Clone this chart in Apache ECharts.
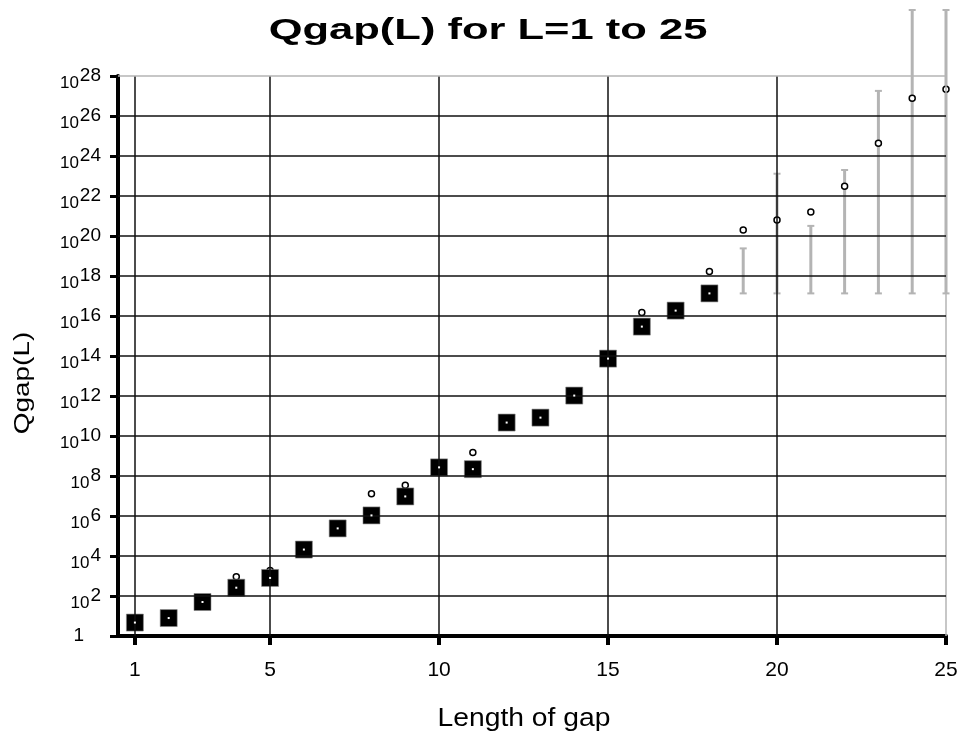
<!DOCTYPE html>
<html><head><meta charset="utf-8">
<script src="https://cdn.jsdelivr.net/npm/echarts@6/dist/echarts.min.js"></script>
<style>html,body{margin:0;padding:0;background:#fff}#c{width:962px;height:736px}</style>
</head><body><div id="c"></div>
<script>
// ---- data ----
const lengths = [1,2,3,4,5,6,7,8,9,10,11,12,13,14,15,16,17,18,19,20,21,22,23,24,25];
const qgapSquares = [4.7, 7.9, 50, 260, 800, 2.1e4, 2.4e5, 1.07e6, 9.5e6, 2.7e8, 2.2e8, 4.7e10, 8.3e10, 1.05e12, 7.4e13, 2.95e15, 1.86e16, 1.35e17, null, null, null, null, null, null, null];
const qgapCircles = [null, null, null, 9.3e2, 1.9e3, null, null, 1.3e7, 3.4e7, null, 1.5e9, null, null, null, null, 1.5e16, null, 1.7e18, 2e20, 6.3e20, 1.6e21, 3.1e22, 4.3e24, 7.7e26, 2.2e27];
const errLow  = [null, null, null, null, null, null, null, null, null, null, null, null, null, null, null, null, null, null, 1.35e17, 1.35e17, 1.35e17, 1.35e17, 1.35e17, 1.35e17, 1.35e17];
const errHigh = [null, null, null, null, null, null, null, null, null, null, null, null, null, null, null, null, null, null, 2.4e19, 1.3e23, 3.2e20, 2e23, 1.8e27, 2e31, 2e31];
const xTicks = [1, 5, 10, 15, 20, 25];
const yTicks = [1, 1e2, 1e4, 1e6, 1e8, 1e10, 1e12, 1e14, 1e16, 1e18, 1e20, 1e22, 1e24, 1e26, 1e28];
const titleText = 'Qgap(L) for L=1 to 25';
const xName = 'Length of gap';
const yName = 'Qgap(L)';

const FONT = '"Liberation Sans", Arial, sans-serif';
const squareData = lengths.map((l, i) => [l, qgapSquares[i]]).filter(d => d[1] != null);
const circleData = lengths.map((l, i) => [l, qgapCircles[i]]).filter(d => d[1] != null);
const errData = lengths.map((l, i) => [l, errLow[i], errHigh[i]]).filter(d => d[1] != null);

const GRID_BLACK = '#111';
const BORDER_GREY = '#b4b4b4';
const gridLines = [];
xTicks.forEach(v => gridLines.push({xAxis: v, lineStyle: {color: v === 25 ? BORDER_GREY : GRID_BLACK}}));
yTicks.slice(1).forEach(v => gridLines.push({yAxis: v, lineStyle: {color: v === 1e28 ? BORDER_GREY : GRID_BLACK}}));

const chart = echarts.init(document.getElementById('c'), null, {renderer: 'canvas'});
chart.setOption({
  animation: false,
  backgroundColor: '#fff',
  grid: {left: 118, right: 16, top: 76, bottom: 100, containLabel: false},
  graphic: [
    {type: 'text', x: 488, y: 31, scaleX: 1.5, z: 10,
     style: {text: titleText, font: 'bold 29px ' + FONT, fill: '#000', textAlign: 'center', textVerticalAlign: 'middle'}},
    {type: 'text', x: 23, y: 383, rotation: Math.PI / 2, scaleX: 1.27, z: 10,
     style: {text: yName, font: '22px ' + FONT, fill: '#000', textAlign: 'center', textVerticalAlign: 'middle'}},
    {type: 'text', x: 524, y: 719, scaleX: 1.13, z: 10,
     style: {text: xName, font: '25px ' + FONT, fill: '#000', textAlign: 'center', textVerticalAlign: 'middle'}}
  ],
  xAxis: {
    type: 'value', min: 0.5, max: 25,
    axisLine: {show: true, onZero: false, lineStyle: {color: '#000', width: 4}},
    axisTick: {show: true, customValues: xTicks, length: 9, lineStyle: {color: '#000', width: 4}},
    axisLabel: {customValues: xTicks, margin: 24, fontSize: 21, color: '#000', fontFamily: FONT},
    splitLine: {show: false}
  },
  yAxis: {
    type: 'log', logBase: 10, min: 1, max: 1e28,
    axisLine: {show: true, onZero: false, lineStyle: {color: '#000', width: 4}},
    axisTick: {show: true, customValues: yTicks, length: 8, lineStyle: {color: '#000', width: 3}},
    axisLabel: {
      customValues: yTicks, margin: 17, color: '#000', fontFamily: FONT,
      formatter: function (v) {
        const e = Math.round(Math.log10(v));
        return e === 0 ? '{o|1}' : '{b|10}{e|' + e + '}';
      },
      rich: {
        o: {fontSize: 19, lineHeight: 19, padding: [0, 17, 0, 0], fontFamily: FONT, color: '#000'},
        b: {fontSize: 17, lineHeight: 17, padding: [15, 1, 0, 0], fontFamily: FONT, color: '#000'},
        e: {fontSize: 19, lineHeight: 19, fontFamily: FONT, color: '#000'}
      }
    },
    splitLine: {show: false}
  },
  series: [
    {
      name: 'gridlines', type: 'line', data: [], z: 1, silent: true,
      markLine: {silent: true, symbol: 'none', label: {show: false}, animation: false,
        lineStyle: {type: 'solid', width: 1.5}, data: gridLines}
    },
    {
      name: 'range', type: 'custom', z: 2, clip: false,
      data: errData, encode: {x: 0, y: [1, 2]},
      renderItem: function (params, api) {
        const x = api.value(0);
        const lo = api.coord([x, api.value(1)]);
        const hi = api.coord([x, api.value(2)]);
        const cw = 3.5;
        return {type: 'group', children: [
          {type: 'line', shape: {x1: lo[0], y1: lo[1], x2: hi[0], y2: hi[1]}, style: {stroke: BORDER_GREY, lineWidth: 3}},
          {type: 'line', shape: {x1: lo[0] - cw, y1: lo[1], x2: lo[0] + cw, y2: lo[1]}, style: {stroke: BORDER_GREY, lineWidth: 2}},
          {type: 'line', shape: {x1: hi[0] - cw, y1: hi[1], x2: hi[0] + cw, y2: hi[1]}, style: {stroke: BORDER_GREY, lineWidth: 2}}
        ]};
      }
    },
    {
      name: 'estimate', type: 'scatter', z: 3, data: circleData, symbol: 'circle', symbolSize: 6,
      itemStyle: {color: '#fff', borderColor: '#000', borderWidth: 1.5, opacity: 1}
    },
    {
      name: 'Qgap', type: 'scatter', z: 4, data: squareData, symbol: 'rect', symbolSize: 17,
      itemStyle: {color: '#000', borderColor: '#888', borderWidth: 0.6, opacity: 1}
    },
    {
      name: 'Qgap-dot', type: 'scatter', z: 5, data: squareData, symbol: 'rect', symbolSize: 2, silent: true,
      itemStyle: {color: '#fff', opacity: 1}
    }
  ]
});
</script>
</body></html>
